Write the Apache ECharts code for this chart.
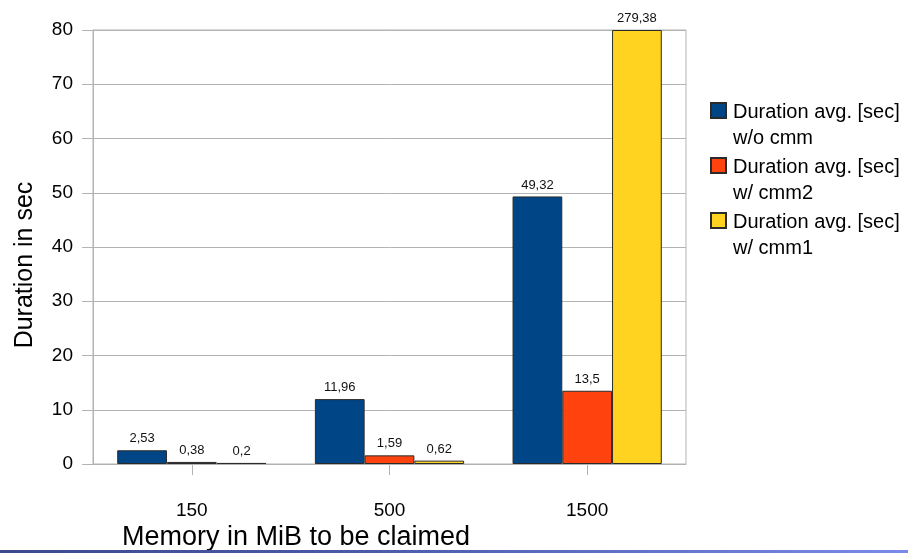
<!DOCTYPE html>
<html>
<head>
<meta charset="utf-8">
<script src="https://cdn.jsdelivr.net/npm/echarts@6/dist/echarts.min.js"></script>
<style>html,body{margin:0;padding:0;background:#fff}#c{width:908px;height:553px}</style>
</head>
<body>
<div id="c"></div>
<script>
var categories = ['150', '500', '1500'];
var seriesNames = ['Duration avg. [sec]\nw/o cmm', 'Duration avg. [sec]\nw/ cmm2', 'Duration avg. [sec]\nw/ cmm1'];
var woCmm = [2.53, 11.96, 49.32];
var wCmm2 = [0.38, 1.59, 13.5];
var wCmm1 = [0.2, 0.62, 279.38];
var yTicks = [0, 10, 20, 30, 40, 50, 60, 70, 80];
var colors = ['#004586', '#ff420e', '#ffd320'];

var yMin = yTicks[0], yMax = yTicks[yTicks.length - 1];
var FONT = '"Liberation Sans", Arial, sans-serif';

function makeSeries(name, vals, color) {
  return {
    name: name,
    type: 'bar',
    data: vals.map(function (v) { return Math.min(v, yMax); }),
    barGap: '0%',
    barCategoryGap: '24.5%',
    itemStyle: { color: color, borderColor: '#2b2b2b', borderWidth: 1 },
    label: {
      show: true,
      position: 'top',
      distance: 4,
      fontFamily: FONT,
      fontSize: 13,
      color: '#111',
      backgroundColor: '#fff',
      padding: [1, 2, 1, 2],
      formatter: function (p) { return String(vals[p.dataIndex]).replace('.', ','); }
    }
  };
}

var chart = echarts.init(document.getElementById('c'), null, { renderer: 'canvas' });
chart.setOption({
  animation: false,
  backgroundColor: '#fff',
  grid: { left: 93, right: 222, top: 30, bottom: 89, show: true, borderColor: '#b3b3b3', borderWidth: 1 },
  legend: {
    orient: 'vertical',
    left: 710,
    top: 98,
    padding: 0,
    itemGap: 1,
    itemWidth: 15,
    itemHeight: 52,
    icon: 'path://M0,0L0.01,0 M0,4L15,4L15,19L0,19Z M0,51.99L0,52',
    selectedMode: false,
    textStyle: { fontFamily: FONT, fontSize: 20, color: '#000', lineHeight: 26, padding: [0, 0, 0, 2], verticalAlign: 'top' },
    data: seriesNames
  },
  xAxis: {
    type: 'category',
    data: categories,
    axisLine: { show: true, lineStyle: { color: '#b3b3b3' } },
    axisTick: { show: true, alignWithLabel: true, length: 11, lineStyle: { color: '#b3b3b3' } },
    axisLabel: { fontFamily: FONT, fontSize: 19, color: '#000', margin: 37 }
  },
  yAxis: {
    type: 'value',
    min: yMin,
    max: yMax,
    interval: yTicks[1] - yTicks[0],
    axisLine: { show: true, lineStyle: { color: '#b3b3b3' } },
    axisTick: { show: true, length: 11, lineStyle: { color: '#b3b3b3' } },
    splitLine: { show: true, lineStyle: { color: '#b3b3b3' } },
    axisLabel: { fontFamily: FONT, fontSize: 19, color: '#000', margin: 20 }
  },
  graphic: [
    {
      type: 'text',
      x: 25, y: 265, rotation: Math.PI / 2,
      style: { text: 'Duration in sec', font: '25px ' + FONT, fill: '#000', align: 'center', verticalAlign: 'middle' }
    },
    {
      type: 'text',
      x: 122, y: 538,
      style: { text: 'Memory in MiB to be claimed', font: '27px ' + FONT, fill: '#000', align: 'left', verticalAlign: 'middle' }
    },
    {
      type: 'rect',
      shape: { x: 0, y: 550, width: 908, height: 3 },
      style: {
        fill: new echarts.graphic.LinearGradient(0, 0, 1, 0, [
          { offset: 0, color: '#3c4a8c' },
          { offset: 0.4, color: '#4a5aa8' },
          { offset: 1, color: '#7a8ae8' }
        ])
      }
    }
  ],
  series: [
    makeSeries(seriesNames[0], woCmm, colors[0]),
    makeSeries(seriesNames[1], wCmm2, colors[1]),
    makeSeries(seriesNames[2], wCmm1, colors[2])
  ]
});
</script>
</body>
</html>
